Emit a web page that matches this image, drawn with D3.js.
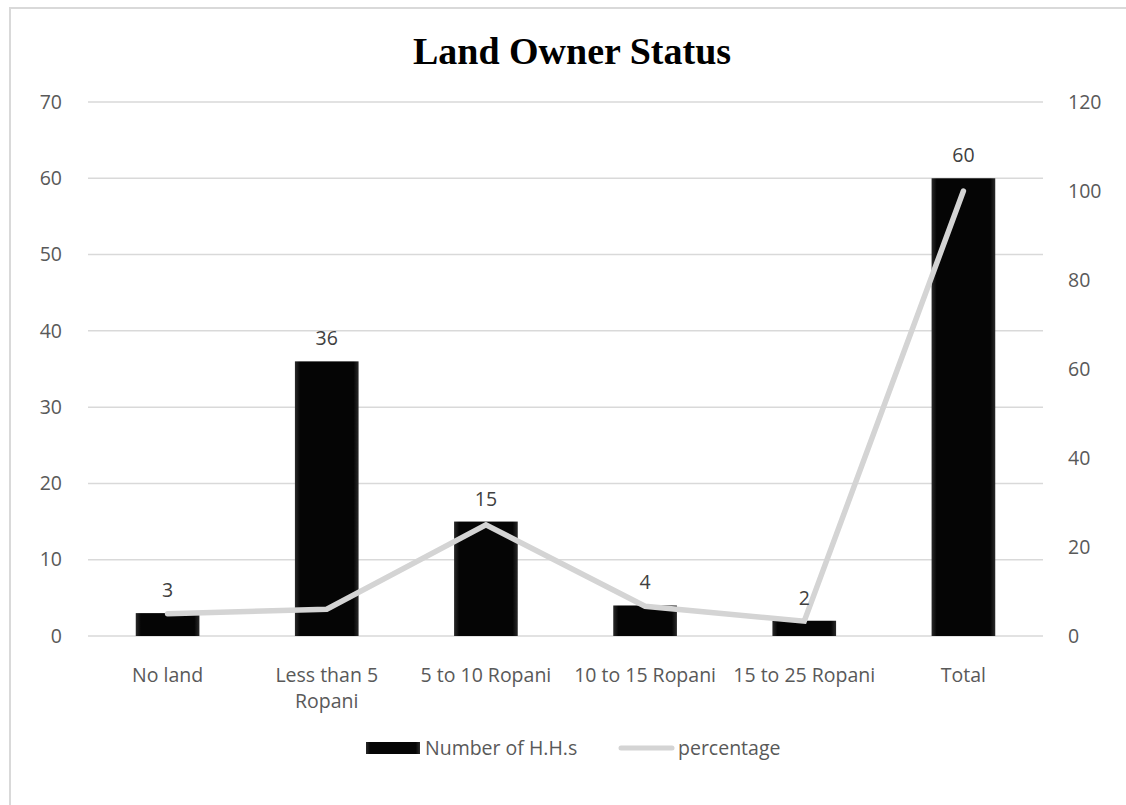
<!DOCTYPE html>
<html><head><meta charset="utf-8">
<script src="https://cdn.jsdelivr.net/npm/d3@7"></script>
<style>body{margin:0;background:#fff}svg{display:block}</style>
</head><body>
<svg id="c" width="1126" height="805"></svg>
<script>
const categories = ["No land", "Less than 5 Ropani", "5 to 10 Ropani", "10 to 15 Ropani", "15 to 25 Ropani", "Total"];
const households = [3, 36, 15, 4, 2, 60];
const percentage = [5, 6, 25, 6.67, 3.33, 100];
const leftTicks = [0, 10, 20, 30, 40, 50, 60, 70];
const rightTicks = [0, 20, 40, 60, 80, 100, 120];
const seriesNames = ["Number of H.H.s", "percentage"];
const title = "Land Owner Status";

(function () {
const svg = d3.select("#c");
const font = "'Open Sans', 'Noto Sans', sans-serif";
const fs = 19.5;
const pLeft = 88, pRight = 1043, pTop = 102, pBottom = 636;

// border
svg.append("rect").attr("x", 10).attr("y", 8).attr("width", 1130).attr("height", 820)
  .attr("fill", "none").attr("stroke", "#d9d9d9").attr("stroke-width", 2);

const defs = svg.append("defs");
const g = defs.append("linearGradient").attr("id", "barg").attr("x1", 0).attr("x2", 1).attr("y1", 0).attr("y2", 0);
g.append("stop").attr("offset", "0").attr("stop-color", "#2a2a2a");
g.append("stop").attr("offset", "0.08").attr("stop-color", "#050505");
g.append("stop").attr("offset", "0.92").attr("stop-color", "#050505");
g.append("stop").attr("offset", "1").attr("stop-color", "#2a2a2a");

const x = d3.scaleBand().domain(categories).range([pLeft, pRight]).paddingInner(0.6).paddingOuter(0.3);
const yL = d3.scaleLinear().domain([0, 70]).range([pBottom, pTop]);
const yR = d3.scaleLinear().domain([0, 120]).range([pBottom, pTop]);

svg.append("text").attr("x", 572).attr("y", 64).attr("text-anchor", "middle")
  .attr("font-family", "'Liberation Serif', 'Times New Roman', serif").attr("font-weight", "bold")
  .attr("font-size", 38).attr("fill", "#000").text(title);

// gridlines
svg.append("g").selectAll("line").data(leftTicks).join("line")
  .attr("x1", pLeft).attr("x2", pRight).attr("y1", d => yL(d)).attr("y2", d => yL(d))
  .attr("stroke", "#d9d9d9").attr("stroke-width", 1.5);

const axL = svg.append("g").attr("transform", `translate(${pLeft},0)`)
  .call(d3.axisLeft(yL).tickValues(leftTicks).tickSize(0).tickPadding(26));
axL.select(".domain").remove();
axL.selectAll("text").attr("font-family", font).attr("font-size", fs).attr("fill", "#595959");

const axR = svg.append("g").attr("transform", `translate(${pRight},0)`)
  .call(d3.axisRight(yR).tickValues(rightTicks).tickSize(0).tickPadding(25));
axR.select(".domain").remove();
axR.selectAll("text").attr("font-family", font).attr("font-size", fs).attr("fill", "#595959");

// bars
svg.append("g").selectAll("rect").data(categories).join("rect")
  .attr("x", d => x(d)).attr("width", x.bandwidth())
  .attr("y", (d, i) => yL(households[i])).attr("height", (d, i) => yL(0) - yL(households[i]))
  .attr("fill", "url(#barg)");

// line
const line = d3.line().x((d, i) => x(categories[i]) + x.bandwidth() / 2).y(d => yR(d));
svg.append("path").datum(percentage).attr("d", line).attr("fill", "none")
  .attr("stroke", "#d4d4d4").attr("stroke-width", 5.5).attr("stroke-linejoin", "miter").attr("stroke-linecap", "round");

// labels
svg.append("g").selectAll("text").data(categories).join("text")
  .attr("x", d => x(d) + x.bandwidth() / 2).attr("y", (d, i) => yL(households[i]) - 16)
  .attr("text-anchor", "middle").attr("font-family", font).attr("font-size", fs).attr("fill", "#404040")
  .text((d, i) => households[i]);

// x axis labels
const xl = svg.append("g");
categories.forEach(c => {
  const cx = x(c) + x.bandwidth() / 2;
  const words = c === "Less than 5 Ropani" ? ["Less than 5", "Ropani"] : [c];
  words.forEach((w, j) => {
    xl.append("text").attr("x", cx).attr("y", 682 + j * 26).attr("text-anchor", "middle")
      .attr("font-family", font).attr("font-size", fs).attr("fill", "#595959").text(w);
  });
});

// legend
const lg = svg.append("g");
lg.append("rect").attr("x", 366).attr("y", 742).attr("width", 54).attr("height", 12).attr("fill", "url(#barg)");
lg.append("text").attr("x", 425).attr("y", 755).attr("font-family", font).attr("font-size", fs).attr("fill", "#595959").text(seriesNames[0]);
lg.append("line").attr("x1", 621).attr("x2", 672).attr("y1", 748).attr("y2", 748).attr("stroke", "#d4d4d4").attr("stroke-width", 5).attr("stroke-linecap", "round");
lg.append("text").attr("x", 678).attr("y", 755).attr("font-family", font).attr("font-size", fs).attr("fill", "#595959").text(seriesNames[1]);
})();
</script>
</body></html>
